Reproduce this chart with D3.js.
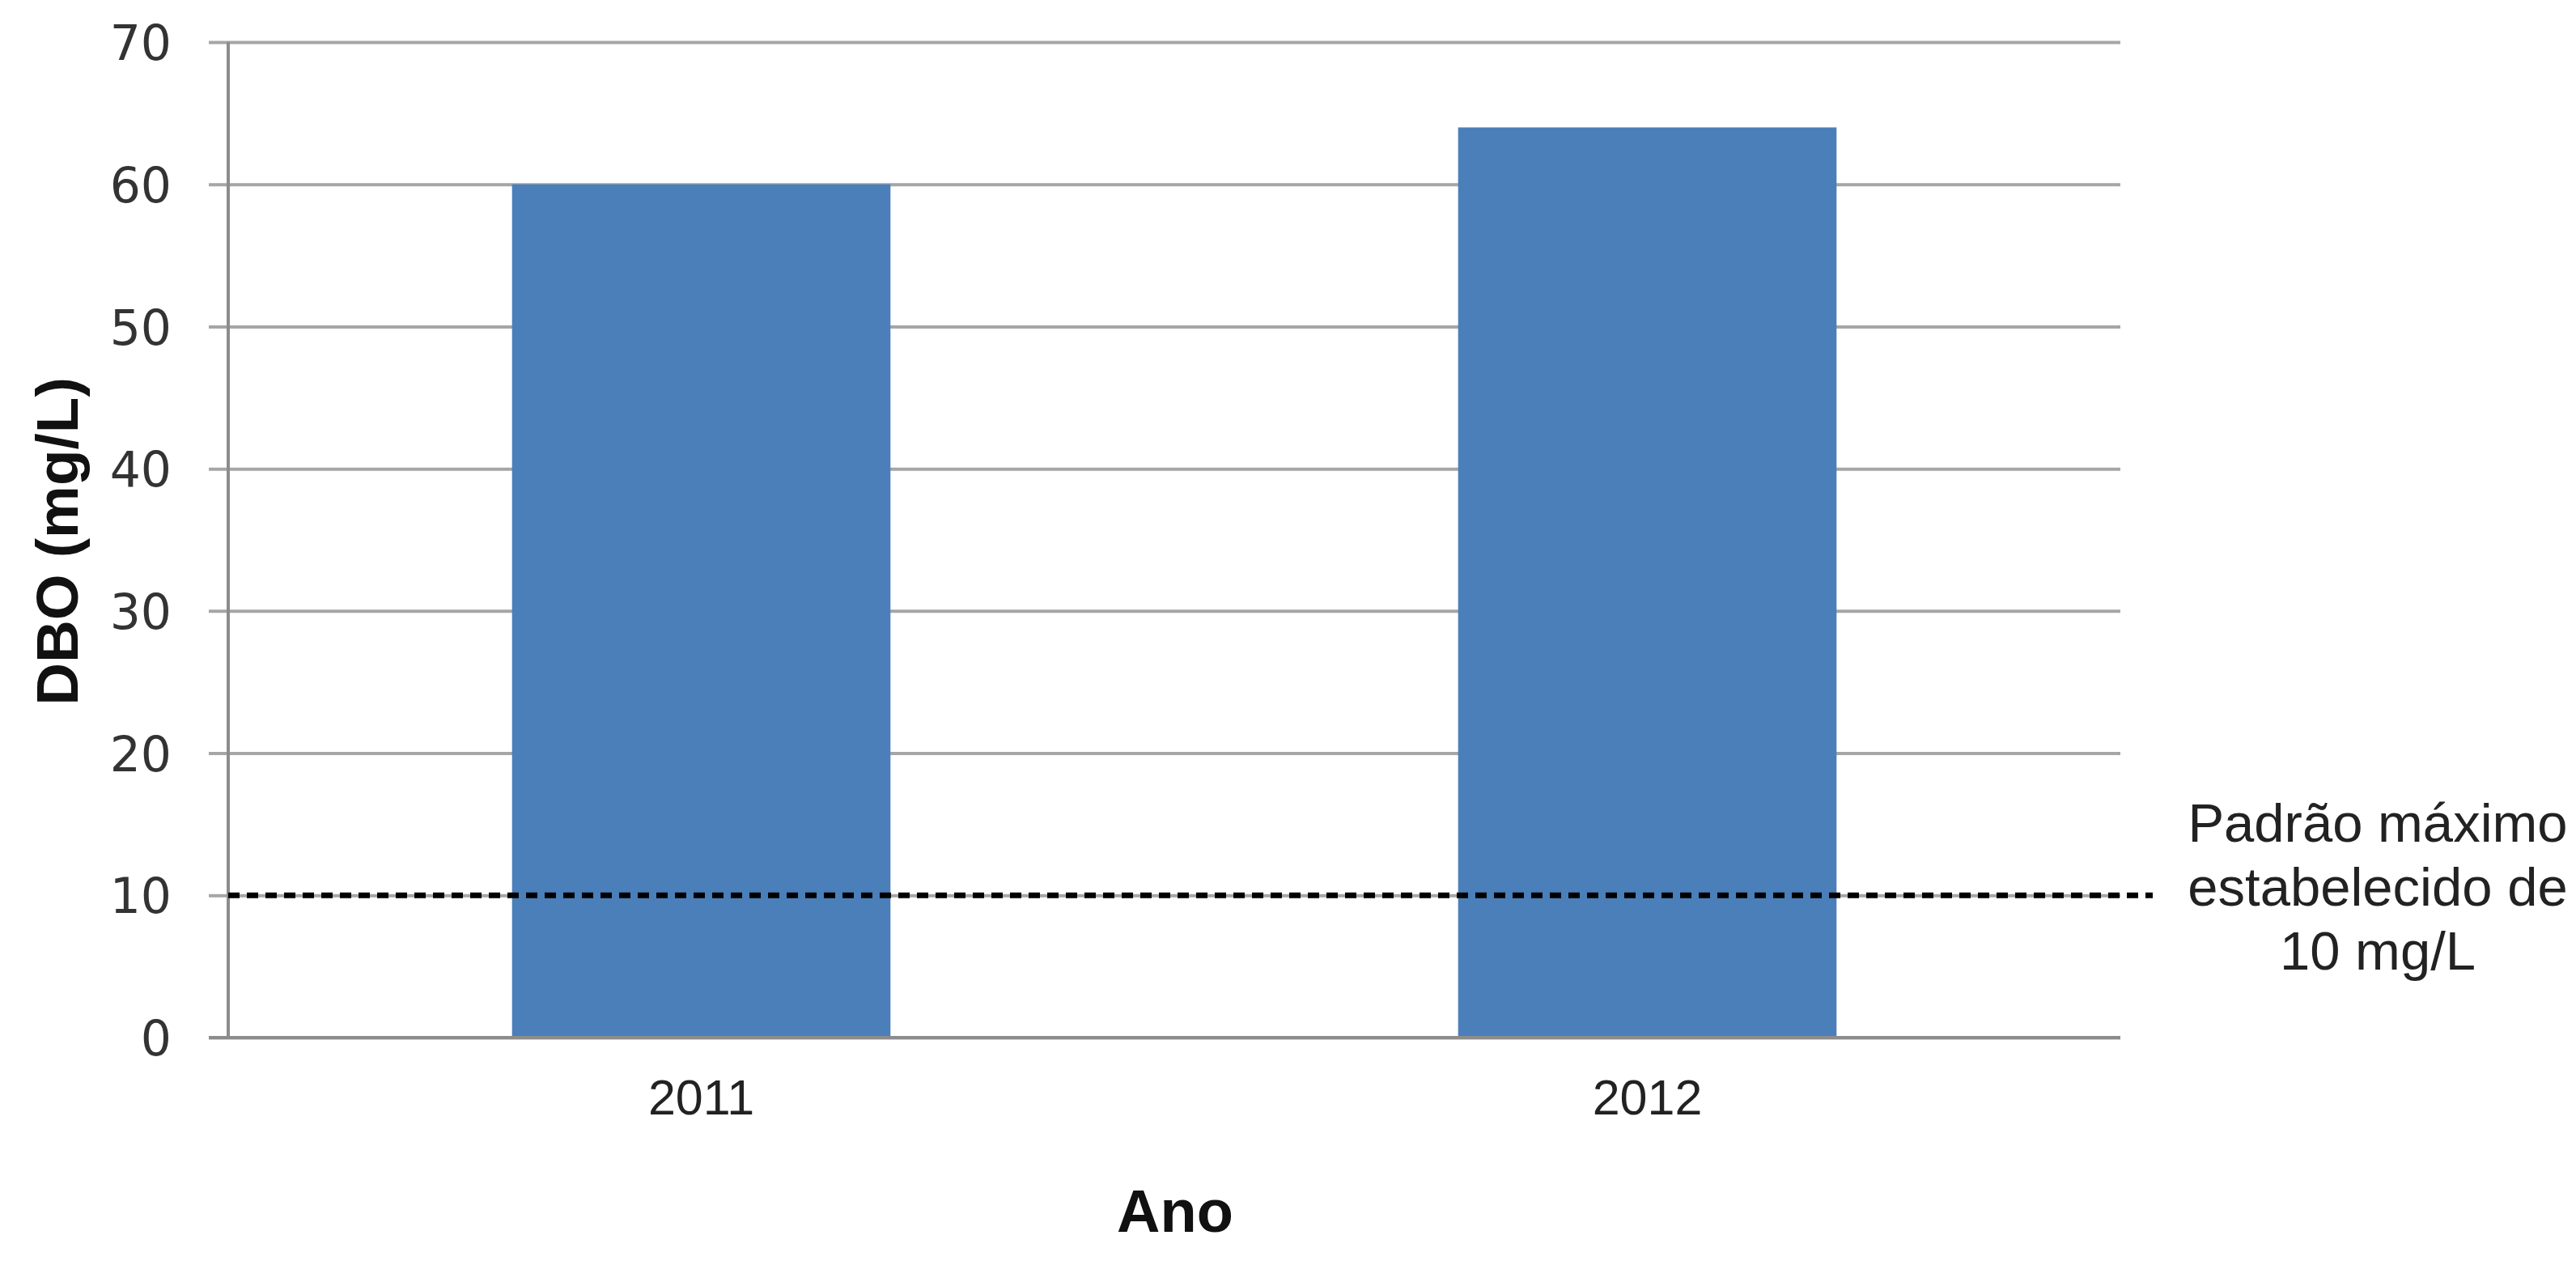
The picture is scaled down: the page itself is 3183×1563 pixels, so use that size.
<!DOCTYPE html>
<html>
<head>
<meta charset="utf-8">
<script src="https://cdn.jsdelivr.net/npm/d3@7"></script>
<style>
  html, body { margin: 0; padding: 0; background: #ffffff; overflow: hidden; }
  svg { display: block; }
</style>
</head>
<body>
<svg id="chart" width="3183" height="1563"></svg>
<script>
const categories = ["2011", "2012"];
const dboValues = [60, 64];
const limitValue = 10;
const yTickValues = [0, 10, 20, 30, 40, 50, 60, 70];
const yAxisTitle = "DBO (mg/L)";
const xAxisTitle = "Ano";
const limitLabelLines = ["Padrão máximo", "estabelecido de", "10 mg/L"];

const svg = d3.select("#chart");
const W = 3183, H = 1563;
svg.append("rect").attr("width", W).attr("height", H).attr("fill", "#ffffff");

const x0 = 282, x1 = 2620, yBottom = 1282, yTop = 52, tickLeft = 258;

const x = d3.scaleBand().domain(categories).range([x0, x1]).paddingInner(0.6).paddingOuter(0.3);
const xCenter = d3.scaleBand().domain(categories).range([x0, x1]).padding(0);
const y = d3.scaleLinear().domain([0, 70]).range([yBottom, yTop]);

// gridlines with left tick stubs
const grid = svg.append("g")
  .attr("transform", `translate(${tickLeft},0)`)
  .call(d3.axisLeft(y).tickValues(yTickValues).tickSize(-(x1 - tickLeft)).tickFormat(""));
grid.select(".domain").remove();
grid.selectAll(".tick line").attr("stroke", "#a6a6a6").attr("stroke-width", 4);

// y tick labels
const yLab = svg.append("g")
  .attr("transform", `translate(${tickLeft},0)`)
  .call(d3.axisLeft(y).tickValues(yTickValues).tickSize(0).tickPadding(46).tickFormat(d3.format("d")));
yLab.select(".domain").remove();
yLab.selectAll("text")
  .attr("font-family", "'DejaVu Sans', Verdana, sans-serif")
  .attr("font-size", 60)
  .attr("fill", "#333333")
  .attr("dy", "0.36em");

// bars
svg.append("g").selectAll("rect")
  .data(categories.map((c, i) => ({ c, v: dboValues[i] })))
  .join("rect")
  .attr("x", d => x(d.c))
  .attr("width", x.bandwidth())
  .attr("y", d => y(d.v))
  .attr("height", d => y(0) - y(d.v))
  .attr("fill", "#4a7fba");

// vertical axis line
svg.append("line")
  .attr("x1", x0).attr("x2", x0)
  .attr("y1", y(0)).attr("y2", y(70))
  .attr("stroke", "#8c8c8c").attr("stroke-width", 4);

// x axis
const xAx = svg.append("g")
  .attr("transform", `translate(0,${y(0)})`)
  .call(d3.axisBottom(xCenter).tickSize(0).tickPadding(52));
xAx.select(".domain").attr("stroke", "#8c8c8c").attr("stroke-width", 4)
  .attr("d", `M${tickLeft},0H${x1}`);
xAx.selectAll("text")
  .attr("font-family", "'Liberation Sans', Arial, sans-serif")
  .attr("font-size", 61)
  .attr("fill", "#222222")
  .attr("dy", "0.71em");

// limit dashed line
svg.append("line")
  .attr("x1", x0).attr("x2", 2660)
  .attr("y1", y(limitValue)).attr("y2", y(limitValue))
  .attr("stroke", "#000000")
  .attr("stroke-width", 7)
  .attr("stroke-dasharray", "14,9");

// limit label
const lbl = svg.append("text")
  .attr("font-family", "'Liberation Sans', Arial, sans-serif")
  .attr("font-size", 67)
  .attr("fill", "#222222")
  .attr("text-anchor", "middle");
limitLabelLines.forEach((t, i) => {
  lbl.append("tspan").attr("x", 2938).attr("y", 1040 + i * 79).text(t);
});

// axis titles
svg.append("text")
  .attr("transform", `translate(96,${(y(0) + y(70)) / 2 + 2}) rotate(-90)`)
  .attr("text-anchor", "middle")
  .attr("font-family", "'Liberation Sans', Arial, sans-serif")
  .attr("font-weight", "bold")
  .attr("font-size", 73)
  .attr("fill", "#111111")
  .text(yAxisTitle);

svg.append("text")
  .attr("x", (x0 + x1) / 2 + 1)
  .attr("y", 1522)
  .attr("text-anchor", "middle")
  .attr("font-family", "'Liberation Sans', Arial, sans-serif")
  .attr("font-weight", "bold")
  .attr("font-size", 74)
  .attr("fill", "#111111")
  .text(xAxisTitle);
</script>
</body>
</html>
